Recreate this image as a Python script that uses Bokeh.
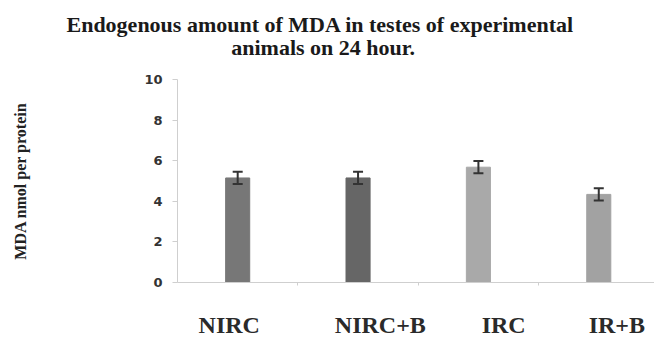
from bokeh.plotting import figure
from bokeh.models import ColumnDataSource, Whisker, TeeHead, Range1d, FixedTicker, LinearAxis
from bokeh.embed import file_html
from bokeh.resources import INLINE

# ---- data ----
categories = ["NIRC", "NIRC+B", "IRC", "IR+B"]
mda_values = [5.15, 5.15, 5.68, 4.34]
mda_errors = [0.3, 0.3, 0.3, 0.3]
bar_colors = ["#777777", "#666666", "#a9a9a9", "#a2a2a2"]
y_ticks = [0, 2, 4, 6, 8, 10]
title_lines = ["Endogenous amount of MDA in testes  of experimental", "animals on 24 hour."]
y_title = "MDA nmol per protein"

# layout helpers (category units)
label_shift = [-0.07, 0.185, 0.21, 0.15]
title_center = 0.71

SERIF = "Liberation Serif"

xs = list(range(len(categories)))
src = ColumnDataSource(dict(
    x=xs,
    top=mda_values,
    upper=[v + e for v, e in zip(mda_values, mda_errors)],
    lower=[v - e for v, e in zip(mda_values, mda_errors)],
    color=bar_colors,
))

p = figure(width=654, height=340, output_backend="svg", toolbar_location=None,
           x_range=Range1d(-0.5, 3.463), y_range=Range1d(0, 10),
           min_border_left=177, min_border_right=0, min_border_top=79, min_border_bottom=56)
p.outline_line_color = None
p.xgrid.visible = False
p.ygrid.visible = False
p.background_fill_color = "white"
p.border_fill_color = "white"

p.vbar(x="x", top="top", width=0.2, bottom=0, source=src, fill_color="color",
       line_color="color")

w = Whisker(base="x", upper="upper", lower="lower", source=src, level="overlay",
            line_color="#333333", line_width=2,
            upper_head=TeeHead(size=10, line_color="#333333", line_width=2),
            lower_head=TeeHead(size=10, line_color="#333333", line_width=2))
p.add_layout(w)

# y axis
ax = p.yaxis[0]
ax.ticker = FixedTicker(ticks=y_ticks)
ax.axis_line_color = "#cfcfcf"
ax.major_tick_line_color = "#cfcfcf"
ax.major_tick_out = 5
ax.major_tick_in = 0
ax.minor_tick_line_color = None
ax.major_label_standoff = 10
ax.major_label_text_font = "DejaVu Sans"
ax.major_label_text_font_style = "bold"
ax.major_label_text_font_size = "13px"
ax.major_label_text_color = "#333333"
ax.axis_label = y_title
ax.axis_label_text_font = SERIF
ax.axis_label_text_font_style = "bold"
ax.axis_label_text_font_size = "16px"
ax.axis_label_text_color = "#222222"
ax.axis_label_standoff = 112

# x axis: labels at shifted positions, category boundary ticks as minor ticks
label_pos = [i + s for i, s in zip(xs, label_shift)]
bx = p.xaxis[0]
bx.ticker = FixedTicker(ticks=label_pos, minor_ticks=[0.5, 1.5, 2.5])
bx.major_label_overrides = {pos: name for pos, name in zip(label_pos, categories)}
bx.axis_line_color = "#cfcfcf"
bx.major_tick_line_color = None
bx.minor_tick_line_color = "#cfcfcf"
bx.minor_tick_out = 3
bx.minor_tick_in = 0
bx.major_tick_out = 0
bx.major_tick_in = 0
bx.major_label_standoff = 26
bx.major_label_text_font = SERIF
bx.major_label_text_font_style = "bold"
bx.major_label_text_font_size = "24px"
bx.major_label_text_color = "#2a2a2a"


# title: two lines drawn as labels of text-only axes above the plot
def title_axis(text, standoff):
    a = LinearAxis(ticker=FixedTicker(ticks=[title_center], minor_ticks=[]),
                   major_label_overrides={title_center: text})
    a.axis_line_color = None
    a.major_tick_line_color = None
    a.minor_tick_line_color = None
    a.major_tick_out = 0
    a.major_tick_in = 0
    a.major_label_standoff = standoff
    a.major_label_text_font = SERIF
    a.major_label_text_font_style = "bold"
    a.major_label_text_font_size = "22px"
    a.major_label_text_color = "#1a1a1a"
    return a


p.add_layout(title_axis(title_lines[1], 20), "above")
p.add_layout(title_axis(title_lines[0], -5), "above")

open("out.html", "w").write(file_html(p, INLINE))
